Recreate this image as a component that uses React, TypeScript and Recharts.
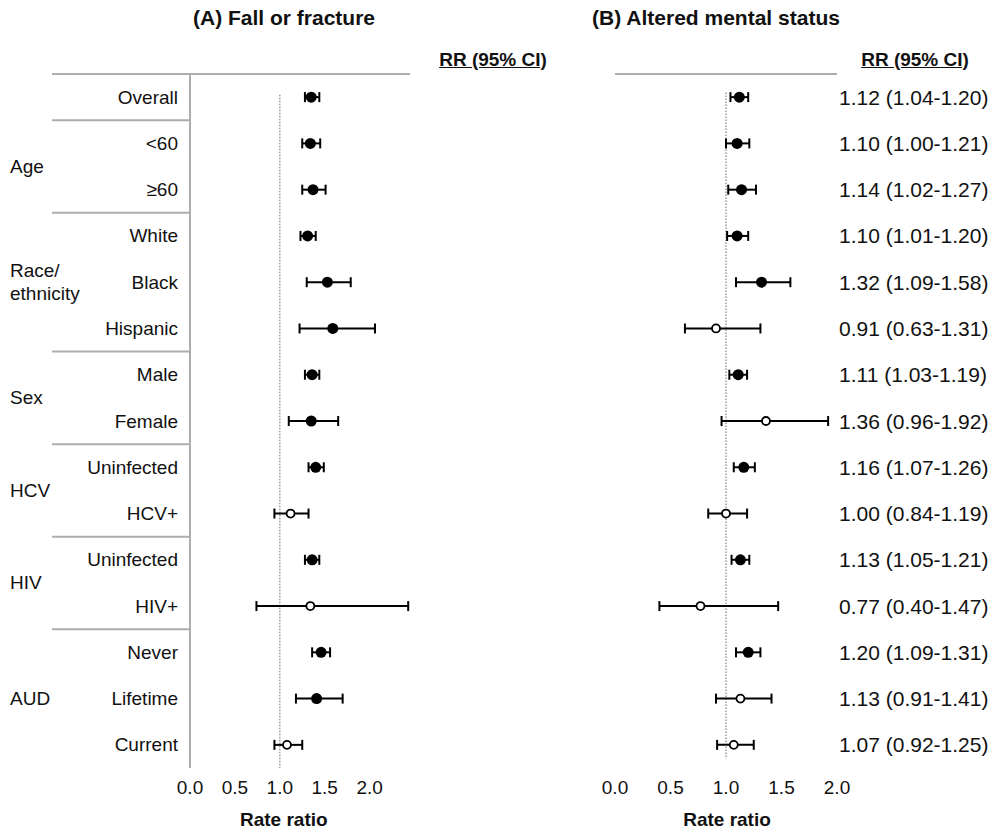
import { ScatterChart, Scatter, XAxis, YAxis, ErrorBar, ReferenceLine } from 'recharts';

const subgroups = ['Overall', '<60', '≥60', 'White', 'Black', 'Hispanic', 'Male', 'Female', 'Uninfected', 'HCV+', 'Uninfected', 'HIV+', 'Never', 'Lifetime', 'Current'];
const groupNames = ['', 'Age', 'Race/|ethnicity', 'Sex', 'HCV', 'HIV', 'AUD'];
const groupSizes = [1, 2, 3, 2, 2, 2, 3];

// (A) Fall or fracture
const fallRR = [1.35, 1.34, 1.37, 1.31, 1.53, 1.59, 1.36, 1.35, 1.40, 1.12, 1.36, 1.34, 1.46, 1.41, 1.08];
const fallLo = [1.28, 1.25, 1.25, 1.23, 1.30, 1.22, 1.28, 1.10, 1.32, 0.94, 1.28, 0.74, 1.36, 1.18, 0.94];
const fallHi = [1.44, 1.45, 1.51, 1.40, 1.79, 2.06, 1.44, 1.65, 1.49, 1.32, 1.44, 2.43, 1.56, 1.70, 1.25];

// (B) Altered mental status
const amsRR = [1.12, 1.10, 1.14, 1.10, 1.32, 0.91, 1.11, 1.36, 1.16, 1.00, 1.13, 0.77, 1.20, 1.13, 1.07];
const amsLo = [1.04, 1.00, 1.02, 1.01, 1.09, 0.63, 1.03, 0.96, 1.07, 0.84, 1.05, 0.40, 1.09, 0.91, 0.92];
const amsHi = [1.20, 1.21, 1.27, 1.20, 1.58, 1.31, 1.19, 1.92, 1.26, 1.19, 1.21, 1.47, 1.31, 1.41, 1.25];

const xTicks = [0, 0.5, 1, 1.5, 2];

const FONT = '"Liberation Sans", Arial, sans-serif';
const GRID = '#adadad';
const INK = '#111';
const PLOT_TOP = 74;
const PLOT_BOTTOM = 768;
const ROW_H = (PLOT_BOTTOM - PLOT_TOP) / subgroups.length;

const rowTicks = subgroups.map((_, i) => i + 0.5);

const groupStarts: Record<number, { name: string; size: number }> = {};
{
    let start = 0;
    groupNames.forEach((name, g) => {
        groupStarts[start] = { name, size: groupSizes[g] };
        start += groupSizes[g];
    });
}

const build = (rr: number[], lo: number[], hi: number[]) =>
    rr.map((v, i) => ({
        row: i + 0.5,
        rr: v,
        err: [v - lo[i], hi[i] - v],
        sig: lo[i] >= 1 || hi[i] < 1,
        text: `${v.toFixed(2)} (${lo[i].toFixed(2)}-${hi[i].toFixed(2)})`,
    }));

const fallData = build(fallRR, fallLo, fallHi);
const amsData = build(amsRR, amsLo, amsHi);

function LabelTick({ x, y, payload }: any) {
    const i = Math.round(payload.value - 0.5);
    const g = groupStarts[i];
    const lines = g && g.name ? g.name.split('|') : [];
    const gy = y + ((g ? g.size : 1) - 1) / 2 * ROW_H;
    return (
        <g>
            <text x={x - 4} y={y} textAnchor="end" dominantBaseline="central" fontSize={19} fill={INK}>
                {subgroups[i]}
            </text>
            {g && (
                <line x1={52} x2={x + 8} y1={y - ROW_H / 2} y2={y - ROW_H / 2} stroke={GRID} strokeWidth={2} />
            )}
            {lines.map((ln, k) => (
                <text key={k} x={10} y={gy + (k - (lines.length - 1) / 2) * 23} dominantBaseline="central" fontSize={19} fill={INK}>
                    {ln}
                </text>
            ))}
        </g>
    );
}

const makeRRTick = (data: any[], dx: number) => ({ x, y, payload }: any) => {
    const i = Math.round(payload.value - 0.5);
    return (
        <text x={x + dx} y={y} dominantBaseline="central" fontSize={21} fill={INK}>
            {data[i].text}
        </text>
    );
};

const Dot = (props: any) => {
    const { cx, cy, payload } = props;
    return payload.sig ? (
        <circle cx={cx} cy={cy} r={5.5} fill="#000" />
    ) : (
        <circle cx={cx} cy={cy} r={4} fill="#fff" stroke="#000" strokeWidth={1.8} />
    );
};

const axisLabel = (domainMax: number, shift: number) => ({ viewBox }: any) => (
    <text
        x={viewBox.x + viewBox.width / domainMax + shift}
        y={826}
        textAnchor="middle"
        fontSize={19}
        fontWeight="bold"
        fill={INK}
    >
        Rate ratio
    </text>
);

const tickStyle = { fill: INK, fontSize: 19 };

export default function App() {
    return (
        <div style={{ position: 'absolute', left: 0, top: 0, width: 995, height: 833, background: '#fff', fontFamily: FONT }}>
            <div style={{ position: 'absolute', left: 284, top: 18, transform: 'translate(-50%, -50%)', fontSize: 21, fontWeight: 'bold', whiteSpace: 'nowrap', color: INK }}>
                (A) Fall or fracture
            </div>
            <div style={{ position: 'absolute', left: 716, top: 18, transform: 'translate(-50%, -50%)', fontSize: 21, fontWeight: 'bold', whiteSpace: 'nowrap', color: INK }}>
                (B) Altered mental status
            </div>
            <div style={{ position: 'absolute', left: 493, top: 60, transform: 'translate(-50%, -50%)', fontSize: 19, fontWeight: 'bold', textDecoration: 'underline', whiteSpace: 'nowrap', color: INK }}>
                RR (95% CI)
            </div>
            <div style={{ position: 'absolute', left: 915, top: 60, transform: 'translate(-50%, -50%)', fontSize: 19, fontWeight: 'bold', textDecoration: 'underline', whiteSpace: 'nowrap', color: INK }}>
                RR (95% CI)
            </div>

            <div style={{ position: 'absolute', left: 0, top: 0 }}>
                <ScatterChart width={600} height={833} margin={{ top: PLOT_TOP, right: 0, bottom: 0, left: 0 }}>
                    <XAxis
                        type="number"
                        dataKey="rr"
                        domain={[0, 2.45]}
                        allowDataOverflow
                        ticks={xTicks}
                        tickFormatter={(v: number) => v.toFixed(1)}
                        axisLine={false}
                        tickLine={false}
                        tickMargin={7}
                        tick={tickStyle}
                        height={833 - PLOT_BOTTOM}
                        label={{ content: axisLabel(2.45, 4) }}
                    />
                    <YAxis
                        yAxisId="l"
                        type="number"
                        dataKey="row"
                        domain={[0, subgroups.length]}
                        reversed
                        ticks={rowTicks}
                        interval={0}
                        width={190}
                        tickLine={false}
                        axisLine={{ stroke: GRID, strokeWidth: 2 }}
                        tick={<LabelTick />}
                    />
                    <YAxis
                        yAxisId="r"
                        orientation="right"
                        type="number"
                        dataKey="row"
                        domain={[0, subgroups.length]}
                        reversed
                        ticks={rowTicks}
                        interval={0}
                        width={190}
                        tickLine={false}
                        axisLine={false}
                        tick={makeRRTick(fallData, -1)}
                    />
                    <ReferenceLine yAxisId="l" y={0} stroke={GRID} strokeWidth={2} />
                    <ReferenceLine
                        yAxisId="l"
                        segment={[{ x: 1, y: 0.45 }, { x: 1, y: subgroups.length }]}
                        stroke="#999"
                        strokeWidth={1.5}
                        strokeDasharray="1.5 1.5"
                    />
                    <Scatter yAxisId="l" data={fallData} dataKey="rr" shape={Dot} isAnimationActive={false}>
                        <ErrorBar dataKey="err" direction="x" width={5} stroke="#000" strokeWidth={2} isAnimationActive={false} />
                    </Scatter>
                </ScatterChart>
            </div>

            <div style={{ position: 'absolute', left: 600, top: 0 }}>
                <ScatterChart width={395} height={833} margin={{ top: PLOT_TOP, right: 0, bottom: 0, left: 15 }}>
                    <XAxis
                        type="number"
                        dataKey="rr"
                        domain={[0, 2]}
                        allowDataOverflow
                        ticks={xTicks}
                        tickFormatter={(v: number) => v.toFixed(1)}
                        axisLine={false}
                        tickLine={false}
                        tickMargin={7}
                        tick={tickStyle}
                        height={833 - PLOT_BOTTOM}
                        label={{ content: axisLabel(2, 1) }}
                    />
                    <YAxis
                        yAxisId="r"
                        orientation="right"
                        type="number"
                        dataKey="row"
                        domain={[0, subgroups.length]}
                        reversed
                        ticks={rowTicks}
                        interval={0}
                        width={158}
                        tickLine={false}
                        axisLine={false}
                        tick={makeRRTick(amsData, -6)}
                    />
                    <ReferenceLine yAxisId="r" y={0} stroke={GRID} strokeWidth={2} />
                    <ReferenceLine
                        yAxisId="r"
                        segment={[{ x: 1, y: 0.4 }, { x: 1, y: subgroups.length - 0.2 }]}
                        stroke="#999"
                        strokeWidth={1.5}
                        strokeDasharray="1.5 1.5"
                    />
                    <Scatter yAxisId="r" data={amsData} dataKey="rr" shape={Dot} isAnimationActive={false}>
                        <ErrorBar dataKey="err" direction="x" width={5} stroke="#000" strokeWidth={2} isAnimationActive={false} />
                    </Scatter>
                </ScatterChart>
            </div>
        </div>
    );
}
